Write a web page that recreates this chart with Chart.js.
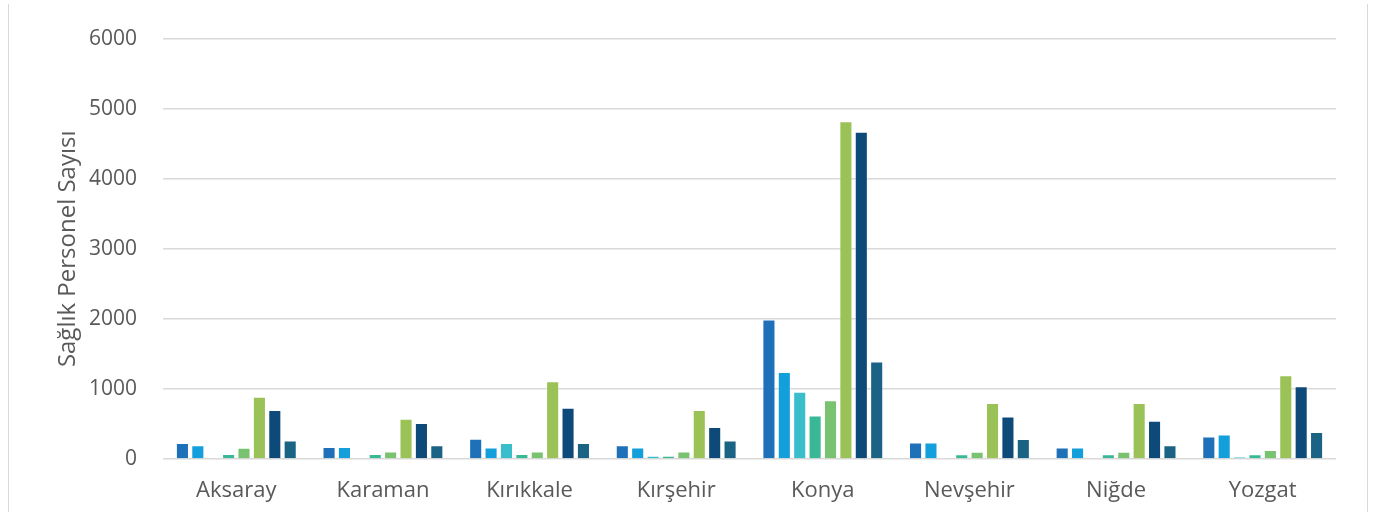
<!DOCTYPE html>
<html>
<head>
<meta charset="utf-8">
<script src="https://cdn.jsdelivr.net/npm/chart.js@4"></script>
<style>
  body { margin: 0; background: #fff; }
  #wrap { position: relative; width: 1381px; height: 514px; }
  #frame { position: absolute; left: 8px; top: 4px; width: 1358px; height: 508px;
           border-left: 1px solid #d9d9d9; border-right: 1px solid #d9d9d9; pointer-events: none; }
</style>
</head>
<body>
<div id="wrap">
  <canvas id="chart"></canvas>
  <div id="frame"></div>
</div>
<script>
const provinces = ['Aksaray', 'Karaman', 'Kırıkkale', 'Kırşehir', 'Konya', 'Nevşehir', 'Niğde', 'Yozgat'];

// one array per bar colour, in the order they appear inside each group
const series1 = [230, 170, 290, 195, 1990, 235, 165, 320];
const series2 = [195, 170, 165, 165, 1240, 235, 165, 350];
const series3 = [0, 0, 230, 45, 960, 0, 0, 35];
const series4 = [73, 73, 73, 45, 620, 67, 67, 67];
const series5 = [160, 107, 107, 107, 840, 102, 102, 130];
const series6 = [890, 575, 1110, 700, 4820, 800, 800, 1195];
const series7 = [700, 515, 730, 455, 4670, 605, 545, 1040];
const series8 = [265, 195, 228, 265, 1390, 287, 195, 385];

const yTicks = [0, 1000, 2000, 3000, 4000, 5000, 6000];

const seriesData = [series1, series2, series3, series4, series5, series6, series7, series8];
const seriesColors = ['#1e70b9', '#139fdb', '#3bbecb', '#38b895', '#79c270', '#9bc257', '#0e4a79', '#1b6385'];

const datasets = seriesData.map((values, i) => ({
    label: 'Seri ' + (i + 1),
    data: values,
    backgroundColor: seriesColors[i],
    borderColor: 'rgba(255,255,255,0.35)',
    borderWidth: 1,
    categoryPercentage: 0.84,
    barPercentage: 0.85
}));

const ctx = document.getElementById('chart').getContext('2d');
new Chart(ctx, {
    type: 'bar',
    data: { labels: provinces, datasets: datasets },
    options: {
        responsive: true,
        maintainAspectRatio: false,
        animation: false,
        layout: { padding: { left: 54, right: 45, top: 29, bottom: 0 } },
        plugins: {
            legend: { display: false },
            tooltip: { enabled: false }
        },
        scales: {
            x: {
                afterFit: scale => { scale.height = 55; },
                grid: { display: false },
                border: { display: false },
                ticks: {
                    color: '#595959',
                    font: { family: 'Open Sans', size: 22 },
                    padding: 11
                }
            },
            y: {
                min: 0,
                max: 6000,
                afterBuildTicks: scale => { scale.ticks = yTicks.map(v => ({ value: v })); },
                afterFit: scale => { scale.width = 109; },
                grid: { color: '#d9d9d9', lineWidth: 1.5, drawTicks: false },
                border: { display: false },
                ticks: {
                    color: '#595959',
                    font: { family: 'Open Sans', size: 21 },
                    padding: 26,
                    callback: value => String(value)
                },
                title: {
                    display: true,
                    text: 'Sağlık Personel Sayısı',
                    color: '#595959',
                    font: { family: 'Open Sans', size: 24 },
                    padding: { top: 0, bottom: 0 }
                }
            }
        }
    }
});
</script>
</body>
</html>
